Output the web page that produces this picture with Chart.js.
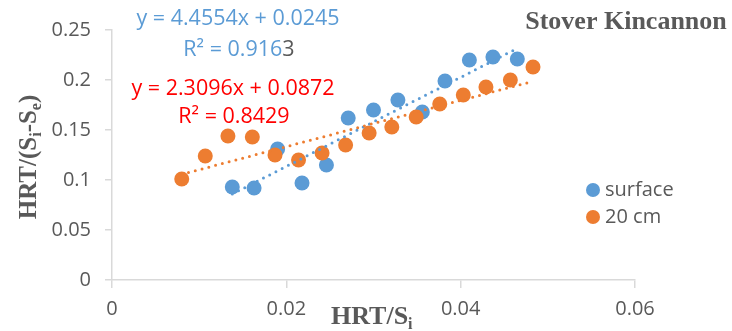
<!DOCTYPE html>
<html>
<head>
<meta charset="utf-8">
<script src="https://cdn.jsdelivr.net/npm/chart.js@4.4.0/dist/chart.umd.min.js"></script>
<style>
  body { margin: 0; background: #fff; }
  #wrap { width: 732px; height: 331px; }
</style>
</head>
<body>
<div id="wrap"><canvas id="grafico" width="732" height="331"></canvas></div>
<script>
// surface
const superficieX = [0.0138, 0.0163, 0.0190, 0.0218, 0.0246, 0.0271, 0.0300, 0.0328, 0.0356, 0.0382, 0.0410, 0.0437, 0.0465];
const superficieY = [0.093, 0.092, 0.131, 0.097, 0.115, 0.162, 0.170, 0.180, 0.168, 0.199, 0.220, 0.223, 0.221];
// 20 cm
const profX = [0.0080, 0.0107, 0.0133, 0.0161, 0.0187, 0.0214, 0.0241, 0.0268, 0.0295, 0.0321, 0.0349, 0.0376, 0.0403, 0.0429, 0.0457, 0.0483];
const profY = [0.101, 0.124, 0.144, 0.143, 0.125, 0.120, 0.127, 0.135, 0.147, 0.153, 0.163, 0.176, 0.185, 0.193, 0.200, 0.213];

const etiquetas = ['surface', '20 cm'];
const ticksX = [0, 0.02, 0.04, 0.06];
const ticksY = [0, 0.05, 0.1, 0.15, 0.2, 0.25];

// lineas de tendencia (ecuaciones que aparecen en el grafico)
const pendSup = 4.4554, intSup = 0.0245;
const pendProf = 2.3096, intProf = 0.0872;

const azul = '#5B9BD5';
const naranja = '#ED7D31';
const gris = '#595959';
const ejeColor = '#d9d9d9';

function puntos(xs, ys) {
    return xs.map((x, i) => ({ x: x, y: ys[i] }));
}
function tendencia(xs, m, b) {
    let x0 = Math.min(...xs), x1 = Math.max(...xs);
    return [{ x: x0, y: m * x0 + b }, { x: x1, y: m * x1 + b }];
}

const textos = {
    id: 'textos',
    afterDraw(chart) {
        const ctx = chart.ctx;
        ctx.save();
        ctx.textBaseline = 'middle';
        ctx.textAlign = 'center';

        // ecuaciones
        ctx.font = '21.5px "Open Sans"';
        ctx.fillStyle = azul;
        ctx.fillText('y = 4.4554x + 0.0245', 238, 19);
        ctx.textAlign = 'left';
        let r2 = 'R² = 0.916';
        let w = ctx.measureText(r2 + '3').width;
        let x0 = 239 - w / 2;
        ctx.fillText(r2, x0, 50);
        ctx.fillStyle = gris;
        ctx.fillText('3', x0 + ctx.measureText(r2).width, 50);
        ctx.textAlign = 'center';
        ctx.fillStyle = '#FF0000';
        ctx.fillText('y = 2.3096x + 0.0872', 233, 89);
        ctx.fillText('R² = 0.8429', 234, 117);

        // titulo
        ctx.fillStyle = gris;
        ctx.font = 'bold 26px "Liberation Serif"';
        ctx.fillText('Stover Kincannon', 626, 22);

        // leyenda
        ctx.textAlign = 'left';
        ctx.font = '20px "Open Sans"';
        const cols = [azul, naranja];
        etiquetas.forEach((t, i) => {
            let y = 190 + i * 27;
            ctx.beginPath();
            ctx.arc(593, y, 7, 0, Math.PI * 2);
            ctx.fillStyle = cols[i];
            ctx.fill();
            ctx.fillStyle = gris;
            ctx.fillText(t, 605, y);
        });

        // titulo eje x
        ctx.fillStyle = gris;
        ctx.textBaseline = 'alphabetic';
        ctx.font = 'bold 26px "Liberation Serif"';
        let tx = 331;
        ctx.fillText('HRT/S', tx, 324);
        tx += ctx.measureText('HRT/S').width;
        ctx.font = 'bold 16px "Liberation Serif"';
        ctx.fillText('i', tx, 329);

        // titulo eje y
        ctx.translate(36, 157);
        ctx.rotate(-Math.PI / 2);
        const partes = [['HRT/(S', 0], ['i', 1], ['-S', 0], ['e', 1], [')', 0]];
        const fuente = p => p[1] ? 'bold 16px "Liberation Serif"' : 'bold 25px "Liberation Serif"';
        let total = 0;
        partes.forEach(p => {
            ctx.font = fuente(p);
            total += ctx.measureText(p[0]).width;
        });
        let px = -total / 2;
        partes.forEach(p => {
            ctx.font = fuente(p);
            ctx.fillText(p[0], px, p[1] ? 5 : 0);
            px += ctx.measureText(p[0]).width;
        });
        ctx.restore();
    }
};

const formato = v => String(+v.toFixed(2));

let config = {
    type: 'scatter',
    data: {
        datasets: [
            {
                label: etiquetas[0],
                data: puntos(superficieX, superficieY),
                backgroundColor: azul,
                borderColor: azul,
                pointRadius: 7.5,
                pointHoverRadius: 7.5,
                borderWidth: 0,
                order: 3
            },
            {
                label: etiquetas[1],
                data: puntos(profX, profY),
                backgroundColor: naranja,
                borderColor: naranja,
                pointRadius: 7.5,
                pointHoverRadius: 7.5,
                borderWidth: 0,
                order: 2
            },
            {
                type: 'line',
                label: 'tend surface',
                data: tendencia(superficieX, pendSup, intSup),
                borderColor: azul,
                borderWidth: 3,
                borderDash: [0, 7],
                borderCapStyle: 'round',
                pointRadius: 0,
                fill: false,
                order: 1
            },
            {
                type: 'line',
                label: 'tend 20 cm',
                data: tendencia(profX, pendProf, intProf),
                borderColor: naranja,
                borderWidth: 3,
                borderDash: [0, 7],
                borderCapStyle: 'round',
                pointRadius: 0,
                fill: false,
                order: 0
            }
        ]
    },
    options: {
        responsive: false,
        animation: false,
        events: [],
        layout: { padding: { left: 0, right: 97, top: 30, bottom: 0 } },
        plugins: { legend: { display: false }, tooltip: { enabled: false } },
        scales: {
            x: {
                type: 'linear',
                min: 0, max: 0.06,
                afterBuildTicks: s => { s.ticks = ticksX.map(v => ({ value: v })); },
                afterFit: s => { s.height = 51; },
                border: { display: true, color: ejeColor, width: 1.5 },
                grid: { drawOnChartArea: false, drawTicks: true, tickLength: 8, color: ejeColor, lineWidth: 1.5 },
                ticks: { color: gris, font: { family: 'Open Sans', size: 20 }, padding: 9, callback: formato, maxRotation: 0 }
            },
            y: {
                min: 0, max: 0.25,
                afterBuildTicks: s => { s.ticks = ticksY.map(v => ({ value: v })); },
                afterFit: s => { s.width = 112; },
                border: { display: true, color: ejeColor, width: 1.5 },
                grid: { drawOnChartArea: false, drawTicks: true, tickLength: 7, color: ejeColor, lineWidth: 1.5 },
                ticks: { color: gris, font: { family: 'Open Sans', size: 20 }, padding: 14, callback: formato }
            }
        }
    },
    plugins: [textos]
};

let grafico = new Chart(document.getElementById('grafico'), config);
</script>
</body>
</html>
